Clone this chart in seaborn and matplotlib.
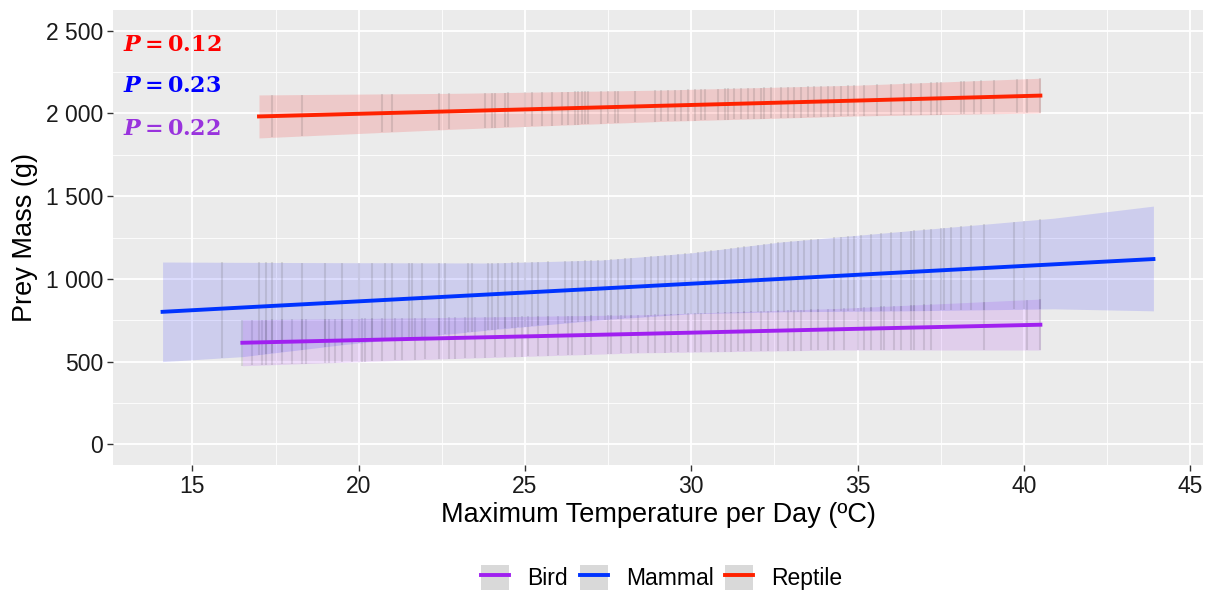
import numpy as np
import pandas as pd
import matplotlib.pyplot as plt
import seaborn as sns
from matplotlib.patches import Patch
from matplotlib.lines import Line2D

groups = ['Bird', 'Mammal', 'Reptile']
line_colors = {'Bird': '#A020F0', 'Mammal': '#0033FF', 'Reptile': '#FF2200'}
fill_colors = {'Bird': '#A020F0', 'Mammal': '#1A1AFF', 'Reptile': '#FF0000'}
text_colors = {'Bird': '#9933DD', 'Mammal': '#0000FF', 'Reptile': '#FF0000'}
p_labels = {'Reptile': '0.12', 'Mammal': '0.23', 'Bird': '0.22'}
p_ypos = {'Reptile': 2410, 'Mammal': 2163, 'Bird': 1904}

# fitted line + confidence band at a few temperatures
bird_x = [16.5, 22.0, 28.5, 34.5, 40.5]
bird_fit = [614, 639, 668, 696, 723]
bird_lo = [475, 513, 553, 570, 570]
bird_hi = [753, 765, 783, 822, 878]

mammal_x = [14.1, 16.5, 19.5, 24.0, 27.3, 30.0, 32.7, 36.5, 40.9, 43.9]
mammal_fit = [801, 827, 859, 907, 942, 971, 1000, 1041, 1088, 1120]
mammal_lo = [500, 530, 602, 693, 753, 789, 801, 807, 819, 807]
mammal_hi = [1102, 1100, 1098, 1096, 1114, 1157, 1223, 1290, 1367, 1440]

reptile_x = [17.0, 23.0, 29.0, 35.0, 40.5]
reptile_fit = [1982, 2014, 2046, 2078, 2108]
reptile_lo = [1852, 1906, 1951, 1985, 2003]
reptile_hi = [2112, 2122, 2141, 2171, 2213]

# temperatures of the observations (the faint vertical stripes)
bird_obs = [16.5, 16.8, 17.1, 17.2, 17.4, 17.7, 18.0, 18.3, 18.4, 19.0, 19.1, 19.3,
            19.5, 19.8, 20.1, 20.2, 20.4, 20.7, 21.1, 21.3, 21.7, 22.0, 22.4, 22.7,
            22.9, 23.2, 23.5, 23.8, 24.1, 24.4, 24.7, 24.9, 25.1, 25.4, 25.7, 26.0,
            26.3, 26.4, 26.8, 27.0, 27.5, 27.6, 27.9, 28.2, 28.4, 28.7, 28.9, 29.2,
            29.4, 29.6, 29.9, 30.1, 30.3, 30.6, 30.8, 31.0, 31.2, 31.4, 31.6, 31.8,
            32.1, 32.3, 32.6, 32.9, 33.1, 33.3, 33.6, 33.8, 34.1, 34.3, 34.6, 35.0,
            35.2, 35.4, 35.7, 35.8, 36.1, 36.3, 36.6, 36.7, 37.0, 37.2, 38.8, 40.1, 40.5]
mammal_obs = [15.9, 17.0, 17.2, 17.4, 17.7, 18.3, 19.0, 19.5, 20.0, 20.4, 20.8, 21.0,
              21.5, 21.6, 21.9, 22.4, 22.6, 23.3, 23.4, 23.9, 24.0, 24.2, 24.4, 24.6,
              24.8, 25.0, 25.2, 25.4, 25.7, 26.2, 26.4, 26.6, 26.8, 27.0, 27.2, 27.4,
              27.6, 27.8, 28.0, 28.2, 28.6, 28.8, 29.0, 29.2, 29.4, 29.6, 29.8, 30.0,
              30.2, 30.4, 30.6, 30.8, 31.0, 31.2, 31.4, 31.6, 31.8, 32.0, 32.2, 32.4,
              32.6, 32.8, 33.0, 33.2, 33.4, 33.6, 33.8, 34.3, 34.5, 34.7, 34.9, 35.1,
              35.4, 35.7, 36.0, 36.3, 36.6, 36.7, 37.0, 37.2, 37.5, 37.6, 37.8, 38.1,
              38.4, 38.8, 39.7, 40.0, 40.5]
reptile_obs = [17.4, 18.3, 20.7, 21.0, 22.4, 22.7, 23.8, 24.0, 24.1, 24.4, 24.5, 25.0,
               25.2, 25.5, 25.8, 26.1, 26.3, 26.5, 26.6, 26.7, 26.8, 26.9, 27.3, 27.5,
               27.7, 27.8, 28.3, 28.9, 29.1, 29.3, 29.5, 29.7, 29.9, 30.1, 30.3, 30.4,
               30.8, 31.0, 31.1, 31.3, 31.5, 31.7, 31.9, 32.1, 32.2, 32.4, 32.7, 32.9,
               33.1, 33.3, 33.5, 33.7, 33.9, 34.1, 34.3, 34.5, 34.7, 34.9, 35.2, 35.6,
               36.0, 36.4, 36.6, 36.9, 37.2, 37.4, 37.5, 38.1, 38.2, 38.5, 38.7, 39.1,
               39.8, 40.1, 40.5]

y_ticks = [0, 500, 1000, 1500, 2000, 2500]
y_ticklabels = ['0', '500', '1 000', '1 500', '2 000', '2 500']
x_ticks = [15, 20, 25, 30, 35, 40, 45]

bands = {
    'Bird': (bird_x, bird_fit, bird_lo, bird_hi, bird_obs),
    'Mammal': (mammal_x, mammal_fit, mammal_lo, mammal_hi, mammal_obs),
    'Reptile': (reptile_x, reptile_fit, reptile_lo, reptile_hi, reptile_obs),
}

fits = pd.concat([pd.DataFrame({'temp': b[0], 'mass': b[1], 'group': g})
                  for g, b in bands.items()], ignore_index=True)

plt.rcParams['font.family'] = ['Liberation Sans', 'DejaVu Sans']
plt.rcParams['mathtext.fontset'] = 'dejavuserif'
fig, ax = plt.subplots(figsize=(12.1, 5.92), dpi=100)
fig.subplots_adjust(left=0.0934, right=0.9942, top=0.983, bottom=0.2145)
ax.set_facecolor('#EBEBEB')

for g in groups:
    bx, bfit, blo, bhi, obs = bands[g]
    ax.fill_between(bx, blo, bhi, color=fill_colors[g], alpha=0.14, lw=0, zorder=2)
    ax.vlines(obs, np.interp(obs, bx, blo), np.interp(obs, bx, bhi),
              color='#333333', alpha=0.13, lw=1.5, zorder=2)

sns.lineplot(data=fits, x='temp', y='mass', hue='group', hue_order=groups,
             palette=line_colors, lw=2.8, estimator=None, sort=True,
             legend=False, ax=ax, zorder=3)

for g in ['Reptile', 'Mammal', 'Bird']:
    ax.text(12.9, p_ypos[g], r'$\mathbfit{P}\mathbf{{=}' + p_labels[g] + '}$',
            color=text_colors[g], fontsize=16, va='center', ha='left', zorder=4)

ax.set_xlim(12.61, 45.39)
ax.set_ylim(-125, 2625)
ax.set_xticks(x_ticks)
ax.set_xticks(np.arange(17.5, 45, 5), minor=True)
ax.set_yticks(y_ticks)
ax.set_yticklabels(y_ticklabels)
ax.set_yticks(np.arange(250, 2600, 500), minor=True)
ax.grid(which='major', color='white', lw=1.3, zorder=0)
ax.grid(which='minor', color='white', lw=0.6, zorder=0)
ax.set_axisbelow(True)
for s in ax.spines.values():
    s.set_visible(False)
ax.tick_params(which='major', length=4, width=1, color='#333333',
               labelsize=16.5, labelcolor='#1A1A1A', pad=3)
ax.tick_params(which='minor', length=0)
ax.set_xlabel('Maximum Temperature per Day (ºC)', fontsize=19.5, color='black', labelpad=3)
ax.set_ylabel('Prey Mass (g)', fontsize=19.5, color='black', labelpad=6)

handles = [(Patch(facecolor='#D9D9D9', edgecolor='none'),
            Line2D([], [], color=line_colors[g], lw=2.8)) for g in groups]
fig.legend(handles, groups, loc='center', bbox_to_anchor=(0.547, 0.025),
           ncol=3, frameon=False, fontsize=16.5, handlelength=1.22, handleheight=1.3,
           columnspacing=0.5, handletextpad=0.8)

fig.savefig('out.png', dpi=100)
